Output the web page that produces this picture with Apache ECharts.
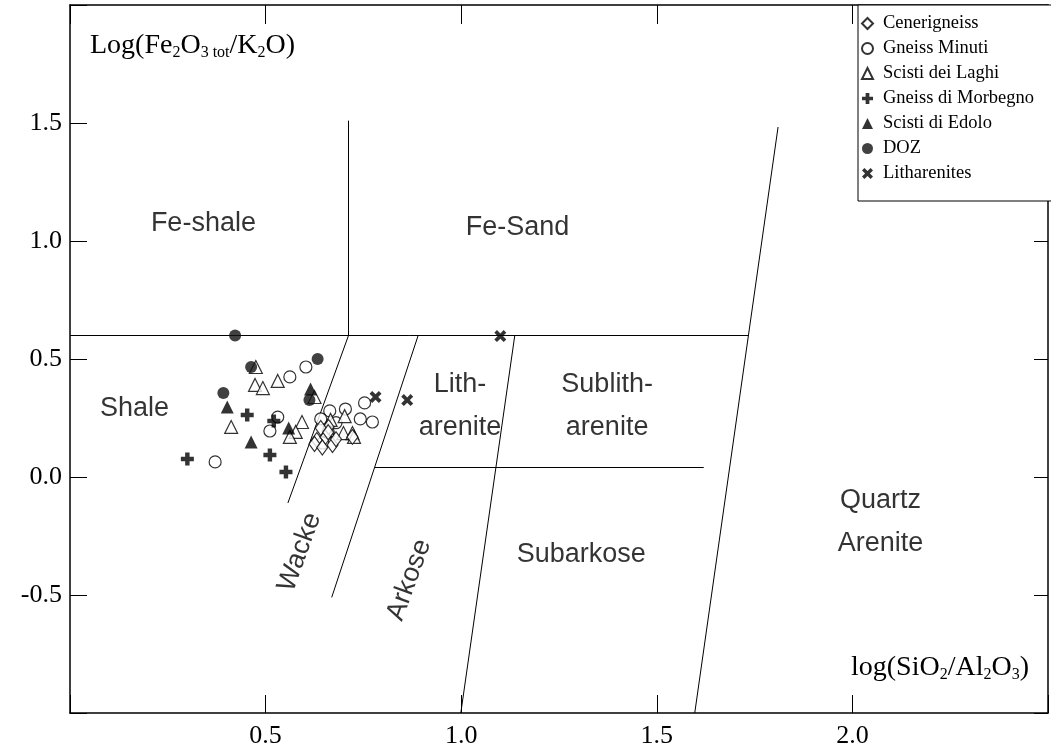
<!DOCTYPE html>
<html><head><meta charset="utf-8">
<script src="https://cdn.jsdelivr.net/npm/echarts@6/dist/echarts.min.js"></script>
<style>html,body{margin:0;padding:0;background:#fff}#c{width:1051px;height:754px}</style>
</head><body><div id="c"></div>
<script>
// tick labels
const xTickLabels = [0.5, 1.0, 1.5, 2.0];
const yTickLabels = [-0.5, 0.0, 0.5, 1.0, 1.5];

// series values [log(SiO2/Al2O3), log(Fe2O3tot/K2O)]
const cenerigneiss = [[0.631,0.157],[0.653,0.170],[0.671,0.136],[0.722,0.170],[0.661,0.212],[0.641,0.208],[0.625,0.140],[0.660,0.190],[0.680,0.160],[0.645,0.125]];
const gneissMinuti = [[0.371,0.064],[0.511,0.195],[0.531,0.254],[0.562,0.424],[0.603,0.466],[0.664,0.280],[0.704,0.288],[0.753,0.314],[0.742,0.246],[0.773,0.233],[0.641,0.246],[0.646,0.144],[0.680,0.230],[0.660,0.190]];
const scistiDeiLaghi = [[0.475,0.466],[0.531,0.407],[0.473,0.390],[0.493,0.377],[0.625,0.339],[0.412,0.212],[0.593,0.233],[0.577,0.191],[0.562,0.170],[0.666,0.242],[0.702,0.258],[0.699,0.186],[0.722,0.186],[0.659,0.199],[0.726,0.170]];
const gneissDiMorbegno = [[0.300,0.076],[0.453,0.263],[0.521,0.237],[0.511,0.093],[0.552,0.021]];
const scistiDiEdolo = [[0.402,0.297],[0.463,0.148],[0.559,0.208],[0.615,0.373]];
const doz = [[0.422,0.600],[0.633,0.500],[0.463,0.466],[0.392,0.356],[0.612,0.326]];
const litharenites = [[0.781,0.339],[0.862,0.326],[1.100,0.597]];

// classification boundaries (Herron 1988), in data units
const boundaries = [
  [[0,0.6],[1.734,0.6]],
  [[0.712,0.6],[0.712,1.51]],
  [[0.712,0.6],[0.557,-0.11]],
  [[0.890,0.6],[0.669,-0.51]],
  [[1.137,0.6],[0.999,-1.0]],
  [[0.779,0.042],[1.620,0.042]],
  [[1.810,1.483],[1.597,-1.0]]
];

// field names with their anchor in data units
const regionNames = ['Fe-shale','Fe-Sand','Shale','Lith-\narenite','Sublith-\narenite','Wacke','Arkose','Subarkose','Quartz\nArenite'];
const regionX = [0.341,1.144,0.165,0.997,1.373,0.587,0.867,1.307,2.072];
const regionY = [1.072,1.059,0.292,0.300,0.300,-0.318,-0.436,-0.330,-0.190];
const regionRotate = [0,0,0,0,0,70,70,0,0];

const serif = "'Liberation Serif','Times New Roman',serif";
const sans = "'Liberation Sans',Arial,sans-serif";

const plusPath = 'path://M3.3,0H6.7V3.3H10V6.7H6.7V10H3.3V6.7H0V3.3H3.3Z';
const crossPath = 'path://M0,2.2L2.2,0L5,2.8L7.8,0L10,2.2L7.2,5L10,7.8L7.8,10L5,7.2L2.2,10L0,7.8L2.8,5Z';

const openStyle = {color:'#fff', borderColor:'#000', borderWidth:1.2};
const fillStyle = {color:'#000'};

const chart = echarts.init(document.getElementById('c'));
const fmt = (list) => (v) => list.some(t => Math.abs(t - v) < 1e-9) ? v.toFixed(1) : '';

chart.setOption({
  animation:false,
  backgroundColor:'#fff',
  grid:{left:70, top:5, width:985, height:708, containLabel:false},
  xAxis:[
    {type:'value', min:0, max:2.5, interval:0.5, position:'bottom',
     axisLine:{show:true, onZero:false, lineStyle:{color:'#000', width:1.5}},
     axisTick:{show:true, inside:true, length:18, lineStyle:{color:'#000', width:1}},
     axisLabel:{formatter:fmt(xTickLabels), fontFamily:serif, fontSize:26, color:'#000', margin:10},
     splitLine:{show:false}},
    {type:'value', min:0, max:2.5, interval:0.5, position:'top',
     axisLine:{show:true, onZero:false, lineStyle:{color:'#000', width:1.5}},
     axisTick:{show:true, inside:true, length:19, lineStyle:{color:'#000', width:1}},
     axisLabel:{show:false}, splitLine:{show:false}}
  ],
  yAxis:[
    {type:'value', min:-1, max:2, interval:0.5, position:'left',
     axisLine:{show:true, onZero:false, lineStyle:{color:'#000', width:1.5}},
     axisTick:{show:true, inside:true, length:17, lineStyle:{color:'#000', width:1}},
     axisLabel:{formatter:fmt(yTickLabels), fontFamily:serif, fontSize:26, color:'#000', margin:8},
     splitLine:{show:false}},
    {type:'value', min:-1, max:2, interval:0.5, position:'right',
     axisLine:{show:true, onZero:false, lineStyle:{color:'#000', width:1.5}},
     axisTick:{show:true, inside:true, length:14, lineStyle:{color:'#000', width:1}},
     axisLabel:{show:false}, splitLine:{show:false}}
  ],
  legend:{
    orient:'vertical', left:858, top:5, padding:[9,60,18,3],
    itemWidth:11, itemHeight:11, itemGap:6,
    backgroundColor:'#fff', borderColor:'#000', borderWidth:1,
    textStyle:{fontFamily:serif, fontSize:18.5, color:'#000', padding:[0,0,0,5]},
    data:['Cenerigneiss','Gneiss Minuti','Scisti dei Laghi','Gneiss di Morbegno','Scisti di Edolo','DOZ','Litharenites'],
    z:10
  },
  graphic:[
    {type:'text', left:90, top:32, z:5, style:{
      rich:{m:{fontFamily:serif, fontSize:28, fill:'#000'}, s:{fontFamily:serif, fontSize:16, fill:'#000', padding:[13,0,0,0]}},
      text:'{m|Log(Fe}{s|2}{m|O}{s|3 tot}{m|/K}{s|2}{m|O)}'}},
    {type:'text', left:851, top:654, z:5, style:{
      rich:{m:{fontFamily:serif, fontSize:28, fill:'#000'}, s:{fontFamily:serif, fontSize:16, fill:'#000', padding:[13,0,0,0]}},
      text:'{m|log(SiO}{s|2}{m|/Al}{s|2}{m|O}{s|3}{m|)}'}}
  ],
  series:[
    {type:'lines', coordinateSystem:'cartesian2d', silent:true, z:1,
     lineStyle:{color:'#000', width:1, opacity:1},
     data: boundaries.map(c => ({coords:c}))},
    {type:'scatter', name:'regions', silent:true, z:2, symbolSize:0,
     label:{show:true, position:'inside', formatter:p => p.name, fontFamily:sans, fontSize:27, color:'#000', lineHeight:43},
     data: regionNames.map((n,i) => ({name:n, value:[regionX[i], regionY[i]], label:{rotate:regionRotate[i]}}))},
    {type:'scatter', name:'Gneiss Minuti', symbol:'circle', symbolSize:12, itemStyle:openStyle, data:gneissMinuti, z:3},
    {type:'scatter', name:'Scisti dei Laghi', symbol:'triangle', symbolSize:13, itemStyle:openStyle, data:scistiDeiLaghi, z:3},
    {type:'scatter', name:'Cenerigneiss', symbol:'diamond', symbolSize:[11,15], itemStyle:openStyle, data:cenerigneiss, z:3},
    {type:'scatter', name:'DOZ', symbol:'circle', symbolSize:12, itemStyle:{color:'#111'}, data:doz, z:3},
    {type:'scatter', name:'Scisti di Edolo', symbol:'triangle', symbolSize:13, itemStyle:fillStyle, data:scistiDiEdolo, z:4},
    {type:'scatter', name:'Gneiss di Morbegno', symbol:plusPath, symbolSize:13, itemStyle:fillStyle, data:gneissDiMorbegno, z:4},
    {type:'scatter', name:'Litharenites', symbol:crossPath, symbolSize:12, itemStyle:fillStyle, data:litharenites, z:4}
  ]
});
</script>
</body></html>
